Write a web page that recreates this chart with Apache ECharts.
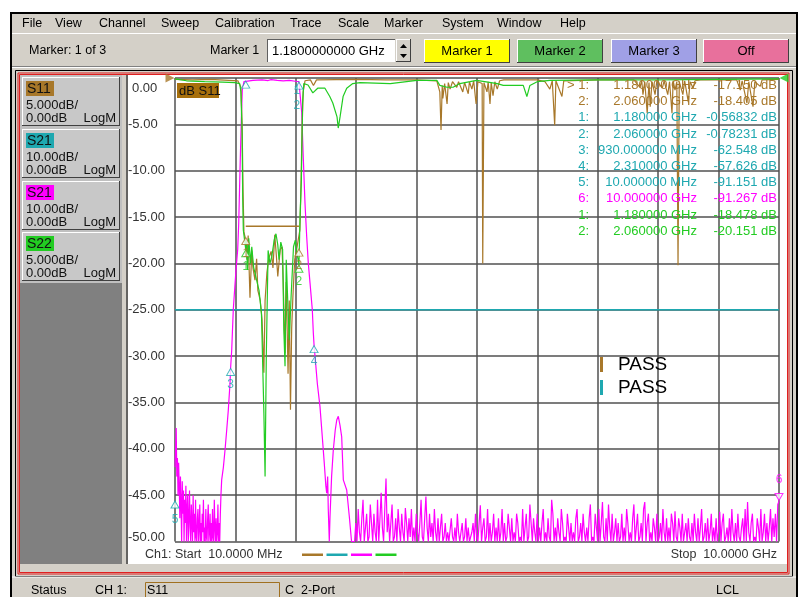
<!DOCTYPE html>
<html>
<head>
<meta charset="utf-8">
<script src="https://cdn.jsdelivr.net/npm/echarts@6/dist/echarts.min.js"></script>
<style>
html, body { margin: 0; padding: 0; background: #fff; }
#chart { width: 798px; height: 597px; }
</style>
</head>
<body>
<div id="chart"></div>
<script>
// ---- data (frequency in GHz, levels in dB) ----
// S21 low-side noise floor, 0.01 GHz upward in 0.01 GHz steps
const s21LowStart = 0.01, s21LowStep = 0.01;
const s21LowNoise = [-84, -80, -75.5, -86, -82, -90, -83, -88, -95, -86, -92, -100, -87, -94, -89, -100, -91, -96, -88, -100,
  -93, -90, -100, -95, -89, -97, -100, -92, -96, -100, -90, -98, -94, -100, -91, -99, -100, -95, -93, -100,
  -97, -92, -100, -96, -100, -94, -98, -91, -100, -97, -100, -93, -99, -100, -95, -92, -100, -98, -94, -100,
  -96, -100, -93, -99, -100, -91, -97, -100, -95, -100, -98, -92, -100, -96, -100, -94, -90];
// S21 passband shape (skirts, passband, spur)
const s21Shape = [[0.782, -86.7], [0.81, -84], [0.837, -80.3], [0.865, -76], [0.892, -71.6],
  [0.92, -65.8], [0.93, -62.5], [0.948, -58.7], [0.974, -50], [1.0, -45], [1.019, -41.4],
  [1.047, -37], [1.064, -31.3], [1.085, -19.9], [1.107, -9], [1.123, -2.6], [1.151, -0.8],
  [1.18, -0.57], [1.3, -0.5], [1.45, -0.4], [1.55, -0.55], [1.6, -0.35], [1.7, -0.5],
  [1.8, -0.6], [1.9, -0.5], [2.0, -0.7], [2.06, -0.78], [2.077, -1.2], [2.106, -7.5],
  [2.132, -17.3], [2.16, -27], [2.188, -34.2], [2.215, -40], [2.243, -44.2], [2.281, -50],
  [2.298, -55], [2.31, -57.6], [2.326, -60], [2.364, -65.9], [2.408, -70.9], [2.446, -77.4],
  [2.479, -83.1], [2.505, -88], [2.519, -89.6], [2.535, -86], [2.545, -93], [2.562, -100],
  [2.574, -94.6], [2.6, -86], [2.628, -80.3], [2.66, -76], [2.685, -73.8], [2.711, -73],
  [2.74, -75], [2.767, -77.4], [2.794, -86.7], [2.82, -87], [2.85, -88.9], [2.893, -94.6],
  [2.93, -100]];
// S21 high-side noise floor, 2.96 GHz to 10 GHz in 0.02 GHz steps
const s21HighStart = 2.96, s21HighStep = 0.02;
const s21HighNoise = [
  -100, -100, -96, -100, -93, -98, -100, -95, -91, -100, -97, -94, -100, -99, -92, -96, -100, -94, -98, -100,
  -91, -100, -95, -89.5, -97, -100, -93, -86.4, -98, -94, -100, -96, -92, -100, -99, -95, -100, -93, -97, -100,
  -94, -98, -100, -92.8, -96, -100, -95, -99, -93, -100, -97, -100, -94, -98, -100, -96, -91, -99, -100, -95,
  -90.3, -97, -100, -94, -99, -96, -100, -93, -98, -100, -95, -100, -97, -94, -100, -99, -96, -100, -98, -100,
  -100, -95, -99, -100, -97, -100, -94, -98, -100, -100, -96, -100, -99, -95, -100, -97, -100, -100, -98, -96,
  -100, -94, -99, -100, -96, -92.2, -100, -97, -95, -100, -99, -93, -100, -96, -100, -98, -94, -100, -97, -100,
  -95, -100, -98, -93, -100, -96, -100, -99, -94, -97, -100, -95, -100, -98, -100, -94, -96, -100, -99, -100,
  -93, -100, -97, -94, -100, -99, -92, -96, -100, -95, -98, -100, -94, -100, -97, -100, -96, -93, -100, -98,
  -100, -95, -99, -100, -91, -94, -100, -97, -100, -95, -98, -100, -93, -96, -100, -99, -100, -94, -97, -100,
  -96, -100, -98, -100, -95, -93, -100, -99, -96, -100, -94, -98, -100, -97, -100, -95, -92, -100, -99, -100,
  -94, -97, -100, -93, -100, -96, -91.5, -99, -100, -95, -100, -92, -97, -100, -94, -100, -98, -95, -100, -96,
  -100, -99, -94, -100, -97, -100, -93, -96, -100, -98, -100, -95, -92, -100, -97, -94, -100, -99, -96, -100,
  -93, -91.5, -100, -96, -94, -100, -98, -100, -95, -97, -100, -94, -100, -99, -96, -100, -93, -98, -100, -95,
  -100, -97, -100, -94, -96, -100, -93.5, -99, -100, -95, -97, -100, -94, -100, -98, -96, -100, -95, -99, -100,
  -96, -100, -94, -98, -100, -95, -100, -97, -93, -100, -99, -96, -100, -95, -100, -98, -94, -100, -97, -100,
  -95, -100, -98, -93.6, -100, -96, -94, -100, -99, -97, -100, -95, -100, -93, -98, -100, -96, -100, -94, -99,
  -100, -97, -95, -100, -93, -100, -91.5, -98, -100, -96, -94, -100, -99, -100, -95, -97, -100, -93, -100, -98,
  -94, -100, -96, -100, -97, -93, -100, -95, -99, -94, -100, -92, -91.3];
const s11Trace = [[0.01, -0.15], [0.3, -0.2], [0.6, -0.15], [0.9, -0.25], [1.05, -0.3], [1.1, -1],
  [1.12, -5], [1.135, -12], [1.15, -16.6], [1.168, -17.15], [1.2, -19.6], [1.22, -17],
  [1.25, -23.7], [1.28, -18.6], [1.3, -20.5], [1.333, -21.8], [1.36, -19.5], [1.38, -22.9],
  [1.42, -24], [1.45, -26.1], [1.48, -31.8], [1.5, -24], [1.53, -21], [1.56, -19.5],
  [1.6, -18.7], [1.63, -20.5], [1.66, -16.9], [1.69, -19.5], [1.71, -21.4], [1.75, -18.5],
  [1.78, -18.2], [1.8, -22], [1.83, -29.7], [1.85, -22], [1.88, -31.9], [1.9, -24],
  [1.92, -35.8], [1.94, -27], [1.96, -23.6], [1.99, -19.6], [2.03, -18.2], [2.06, -18.4],
  [2.075, -16.4], [2.09, -12.8], [2.11, -6], [2.13, -1.5], [2.16, -0.3], [2.25, -0.2],
  [2.3, -0.8], [2.35, -0.2], [3.0, -0.15], [3.5, -0.2], [4.0, -0.2], [4.34, -0.3],
  [4.39, -1.5], [4.41, -5.6], [4.43, -0.8], [4.44, -2.2], [4.47, -0.6], [4.51, -2.8],
  [4.53, -0.5], [4.56, -1.2], [4.6, -0.4], [4.67, -1], [4.7, -0.4], [4.77, -1.5],
  [4.8, -0.5], [4.86, -1.7], [4.88, -0.4], [4.92, -1.2], [4.95, -0.3], [4.99, -2.8],
  [5.02, -0.4], [5.09, -0.6], [5.1, -20], [5.12, -0.5], [5.17, -1.5], [5.19, -0.4],
  [5.22, -2.8], [5.24, -0.5], [5.27, -1.9], [5.3, -0.4], [5.34, -1.2], [5.38, -0.3],
  [5.45, -0.2], [6.0, -0.2], [6.13, -0.4], [6.21, -1.2], [6.25, -0.3], [6.29, -5.1],
  [6.31, -0.3], [6.41, -2], [6.44, -0.3], [7.0, -0.2], [7.6, -0.2], [7.7, -1],
  [7.73, -0.3], [7.75, -1.8], [7.78, -0.4], [7.82, -3.8], [7.85, -0.5], [7.87, -3.1],
  [7.9, -0.4], [7.95, -1.8], [7.98, -0.3], [8.07, -1.1], [8.1, -0.3], [8.16, -1.8],
  [8.19, -0.4], [8.23, -3.8], [8.25, -0.3], [8.28, -1.3], [8.31, -0.4], [8.33, -20.2],
  [8.35, -0.4], [8.41, -1.8], [8.44, -0.3], [8.5, -2.6], [8.53, -0.4], [8.58, -1.1],
  [8.61, -0.3], [8.7, -0.2], [9.3, -0.2], [9.36, -1.3], [9.39, -0.3], [9.47, -2.7],
  [9.5, -0.4], [9.57, -3.1], [9.6, -0.4], [9.69, -0.9], [9.72, -0.2], [10, -0.15]];
const s22Trace = [[0.01, -0.1], [0.2, -0.3], [0.5, -0.4], [0.8, -0.45], [1.0, -0.5], [1.08, -0.6],
  [1.1, -1.5], [1.12, -6], [1.13, -13], [1.14, -16.4], [1.18, -18.48], [1.19, -17.5],
  [1.21, -20.7], [1.23, -17.3], [1.26, -20], [1.28, -18.2], [1.31, -20.4], [1.36, -21.8],
  [1.4, -22.9], [1.44, -25.4], [1.48, -36.1], [1.5, -43], [1.52, -30], [1.55, -18.6],
  [1.58, -20], [1.61, -19.3], [1.65, -17.5], [1.68, -16.8], [1.71, -18], [1.73, -19.6],
  [1.76, -17.7], [1.79, -18.5], [1.81, -27.2], [1.83, -31.1], [1.85, -19.6], [1.88, -25],
  [1.9, -28.3], [1.93, -23.6], [1.97, -18.2], [2.0, -17.5], [2.03, -19], [2.06, -20.15],
  [2.08, -14.6], [2.1, -11], [2.12, -2.7], [2.14, -0.6], [2.21, -0.75], [2.29, -1.6],
  [2.37, -1.1], [2.49, -1.1], [2.57, -2], [2.62, -2.7], [2.69, -4.2], [2.71, -5.4],
  [2.74, -4.2], [2.79, -2], [2.85, -1.1], [2.95, -0.6], [3.07, -0.5], [3.57, -0.6],
  [4.01, -0.25], [4.34, -0.25], [4.39, -0.8], [4.51, -1], [4.61, -1], [4.72, -0.6],
  [4.89, -0.4], [5.0, -0.25], [5.34, -0.6], [5.44, -0.8], [5.77, -0.8], [5.83, -2],
  [5.88, -0.8], [6.0, -0.4], [6.21, -0.25], [7.0, -0.2], [8.0, -0.2], [9.0, -0.15], [10, -0.1]];
const s11Limit = [[1.18, -16], [2.06, -16]];
const s21Limit = [[0.01, -50], [10, -50]];
// markers
const s21MarkerF = [1.18, 2.06, 0.93, 2.31, 0.01];
const s21MarkerDb = [-0.568, -0.782, -62.548, -57.626, -91.151];
const s21Marker6 = [10, -91.267];
const s11MarkerF = [1.18, 2.06], s11MarkerDb = [-17.15, -18.405];
const s22MarkerF = [1.18, 2.06], s22MarkerDb = [-18.478, -20.151];
// marker readout table
const tableIdx = ['> 1:', '2:', '1:', '2:', '3:', '4:', '5:', '6:', '1:', '2:'];
const tableFreq = ['1.180000 GHz', '2.060000 GHz', '1.180000 GHz', '2.060000 GHz', '930.000000 MHz',
  '2.310000 GHz', '10.000000 MHz', '10.000000 GHz', '1.180000 GHz', '2.060000 GHz'];
const tableVal = ['-17.150 dB', '-18.405 dB', '-0.56832 dB', '-0.78231 dB', '-62.548 dB',
  '-57.626 dB', '-91.151 dB', '-91.267 dB', '-18.478 dB', '-20.151 dB'];
const tableTrace = [0, 0, 1, 1, 1, 1, 1, 2, 3, 3];

const BROWN = '#a8782a', TEAL = '#1ea8b0', MAG = '#ff00ff', GREEN = '#22cc22';
const traceColors = [BROWN, TEAL, MAG, GREEN];
const FONT = '"Liberation Sans", Arial, sans-serif';
const GRAY = '#d4d0c8';

// ---- helpers for the analyzer window chrome ----
function R(x, y, w, h, fill, stroke, z) {
  return { type: 'rect', z: z || 0, silent: true, shape: { x: x, y: y, width: w, height: h },
    style: { fill: fill || 'none', stroke: stroke || null, lineWidth: 1 } };
}
function L(x1, y1, x2, y2, color, w, z) {
  return { type: 'line', z: z || 1, silent: true, shape: { x1: x1, y1: y1, x2: x2, y2: y2 },
    style: { stroke: color, lineWidth: w || 1 } };
}
function T(x, y, text, size, color, align, z) {
  return { type: 'text', x: x, y: y, z: z || 60, silent: true,
    style: { text: text, fill: color || '#000', font: size + 'px ' + FONT,
      align: align || 'left', verticalAlign: 'middle', textAlign: align || 'left', textVerticalAlign: 'middle' } };
}
function bevel(x, y, w, h, fill) {
  return [R(x, y, w, h, fill), L(x, y + 0.5, x + w, y + 0.5, '#fff'), L(x + 0.5, y, x + 0.5, y + h, '#fff'),
    L(x, y + h - 0.5, x + w, y + h - 0.5, '#404040'), L(x + w - 0.5, y, x + w - 0.5, y + h, '#404040')];
}

const g = [];
// window frame, menu, toolbar
g.push(R(10, 12, 788, 585, '#000'));
g.push(R(12, 14, 784, 583, GRAY));
const menuItems = ['File', 'View', 'Channel', 'Sweep', 'Calibration', 'Trace', 'Scale', 'Marker', 'System', 'Window', 'Help'];
const menuX = [22, 55, 99, 161, 215, 290, 338, 384, 442, 497, 560];
menuItems.forEach((m, i) => g.push(T(menuX[i], 24, m, 12.5, '#000')));
g.push(L(12, 33.5, 796, 33.5, '#fff'));
g.push(L(12, 66.5, 796, 66.5, '#808080'));
g.push(L(12, 67.5, 796, 67.5, '#fff'));
g.push(T(29, 51, 'Marker: 1 of 3', 12.5, '#000'));
g.push(T(210, 51, 'Marker 1', 12.5, '#000'));
g.push(R(267, 39, 128, 23, '#fff'));
g.push(L(267, 39.5, 395, 39.5, '#606060'), L(267.5, 39, 267.5, 62, '#606060'));
g.push(T(272, 51, '1.1800000000 GHz', 13, '#000'));
bevel(396, 39, 15, 23, GRAY).forEach(e => g.push(e));
g.push({ type: 'polygon', silent: true, z: 2, shape: { points: [[400, 48], [407, 48], [403.5, 44]] }, style: { fill: '#000' } });
g.push({ type: 'polygon', silent: true, z: 2, shape: { points: [[400, 54], [407, 54], [403.5, 58]] }, style: { fill: '#000' } });
const tbButtons = [['Marker 1', 424, '#ffff00'], ['Marker 2', 517, '#5fbf5f'], ['Marker 3', 611, '#a0a0e6'], ['Off', 703, '#e8709c']];
tbButtons.forEach(b => {
  bevel(b[1], 39, 86, 24, b[2]).forEach(e => g.push(e));
  g.push(T(b[1] + 43, 51, b[0], 13, '#000', 'center'));
});
// channel window frame
g.push(R(15.5, 70.5, 777, 506, null, '#000'));
g.push(R(18, 73, 771, 501, null, '#e02020'));
g.push(R(19.5, 74.5, 768, 498, null, '#e02020'));
// white plot panel
g.push(R(128, 75, 659, 489, '#fff'));
// left trace panel
g.push(R(20, 75, 102, 489, '#808080'));
g.push(R(20, 75, 102, 208, '#c0c0c0'));
g.push(L(127, 75, 127, 564, '#404040', 1.5));
const btnY = [77, 129, 181, 232];
const btnName = ['S11', 'S21', 'S21', 'S22'];
const btnScale = ['5.000dB/', '10.00dB/', '10.00dB/', '5.000dB/'];
btnY.forEach((y, i) => {
  bevel(22, y, 98, 49, '#c8c8c8').forEach(e => g.push(e));
  g.push(R(26, y + 4, 28, 15, traceColors[i]));
  g.push(T(27, y + 12, btnName[i], 14, '#111'));
  g.push(T(26, y + 28, btnScale[i], 13, '#111'));
  g.push(T(26, y + 41, '0.00dB', 13, '#111'));
  g.push(T(116, y + 41, 'LogM', 13, '#111', 'right'));
});
// plot panel texts
g.push(R(177, 83, 42, 15, '#a8700c', null, 55));
g.push(T(179, 91, 'dB S11', 13, '#111'));
g.push(T(145, 555, 'Ch1: Start  10.0000 MHz', 12.5, '#333'));
g.push(T(777, 555, 'Stop  10.0000 GHz', 12.5, '#333', 'right'));
traceColors.forEach((c, i) => g.push(R(302 + i * 24.5, 553.5, 21, 2.5, c)));
g.push(R(600, 357, 3, 15, BROWN, null, 55));
g.push(R(600, 380, 3, 15, TEAL, null, 55));
g.push(T(618, 365, 'PASS', 19, '#000'));
g.push(T(618, 388, 'PASS', 19, '#000'));
tableIdx.forEach((t, i) => {
  const y = 85.5 + i * 16.2, c = traceColors[tableTrace[i]];
  g.push(T(589, y, t, 13, c, 'right'));
  g.push(T(697, y, tableFreq[i], 13, c, 'right'));
  g.push(T(777, y, tableVal[i], 13, c, 'right'));
});
// status bar
g.push(L(12, 577, 796, 577, '#fff'));
g.push(T(31, 591, 'Status', 12.5, '#000'));
g.push(T(95, 591, 'CH 1:', 12.5, '#000'));
g.push(R(145.5, 582.5, 134, 16, null, '#a07020'));
g.push(T(147, 591, 'S11', 12.5, '#000'));
g.push(T(285, 591, 'C  2-Port', 12.5, '#000'));
g.push(T(716, 591, 'LCL', 12.5, '#000'));

// ---- build series data ----
const s21Data = s21LowNoise.map((v, i) => [+(s21LowStart + i * s21LowStep).toFixed(3), v])
  .concat(s21Shape)
  .concat(s21HighNoise.map((v, i) => [+(s21HighStart + i * s21HighStep).toFixed(3), v]));

function markerData(fs, dbs, labels, offsets) {
  return fs.map((f, i) => ({ value: [f, dbs[i]], name: labels[i],
    label: { offset: offsets ? offsets[i] : [0, 13] } }));
}
function markerSeries(name, yIdx, color, data, rotate, symOff) {
  return { name: name, type: 'scatter', xAxisIndex: 1, yAxisIndex: yIdx, data: data, z: 10, clip: false,
    symbol: 'triangle', symbolSize: [8, 7], symbolRotate: rotate || 0, symbolOffset: symOff || [0, 4],
    itemStyle: { color: '#fff', borderColor: color, borderWidth: 1 },
    label: { show: true, position: 'inside', formatter: p => p.name, color: color, fontSize: 12, fontFamily: FONT } };
}
function traceSeries(name, yIdx, color, data, w) {
  return { name: name, type: 'line', xAxisIndex: 1, yAxisIndex: yIdx, data: data, symbol: 'none',
    lineStyle: { color: color, width: w || 1.2 }, silent: true };
}

const chart = echarts.init(document.getElementById('chart'));
chart.setOption({
  animation: false,
  backgroundColor: '#fff',
  graphic: g,
  grid: { left: 175, top: 78, width: 604, height: 463.5 },
  xAxis: [
    { type: 'value', min: 0, max: 10, interval: 1, axisLine: { show: false }, axisTick: { show: false },
      axisLabel: { show: false }, splitLine: { lineStyle: { color: '#505050', width: 1.5 } } },
    { type: 'value', min: 0.01, max: 10, show: false }
  ],
  yAxis: [
    { type: 'value', min: -50, max: 0, interval: 5, axisLine: { show: false }, axisTick: { show: false },
      splitLine: { lineStyle: { color: '#505050', width: 1.5 } },
      axisLabel: { align: 'left', margin: 47, color: '#333', fontSize: 13, fontFamily: FONT,
        formatter: v => v === 0 ? '{a|0.00}' : (v === -50 ? '{b|-50.00}' : v.toFixed(2)),
        rich: { a: { padding: [20, 0, 0, 4], fontSize: 13, fontFamily: FONT, color: '#333' },
                b: { padding: [0, 0, 9, 0], fontSize: 13, fontFamily: FONT, color: '#333' } } } },
    { type: 'value', min: -100, max: 0, show: false }
  ],
  series: [
    traceSeries('S21 limit', 1, TEAL, s21Limit, 1.5),
    traceSeries('S11 limit', 0, BROWN, s11Limit, 1.5),
    traceSeries('S21', 1, MAG, s21Data),
    traceSeries('S11', 0, BROWN, s11Trace),
    traceSeries('S22', 0, GREEN, s22Trace),
    markerSeries('S21 markers', 1, TEAL, markerData(s21MarkerF, s21MarkerDb, ['1', '2', '3', '4', '5'],
      [[51, 6], [-2, 20], [0, 13], [0, 13], [0, 15]])),
    markerSeries('S21 marker 6', 1, MAG, markerData([s21Marker6[0]], [s21Marker6[1]], ['6'], [[0, -17]]), 180, [0, -4]),
    markerSeries('S11 markers', 0, BROWN, markerData(s11MarkerF, s11MarkerDb, ['1', '2'])),
    markerSeries('S22 markers', 0, GREEN, markerData(s22MarkerF, s22MarkerDb, ['1', '2'])),
    { type: 'scatter', xAxisIndex: 1, yAxisIndex: 0, clip: false, z: 10, symbol: 'triangle', symbolSize: 9,
      data: [{ value: [0.01, 0], symbolRotate: -90, symbolOffset: [-5, 0], itemStyle: { color: BROWN } },
             { value: [10, 0], symbolRotate: 90, symbolOffset: [5, 0], itemStyle: { color: GREEN } }] }
  ]
});
</script>
</body>
</html>
